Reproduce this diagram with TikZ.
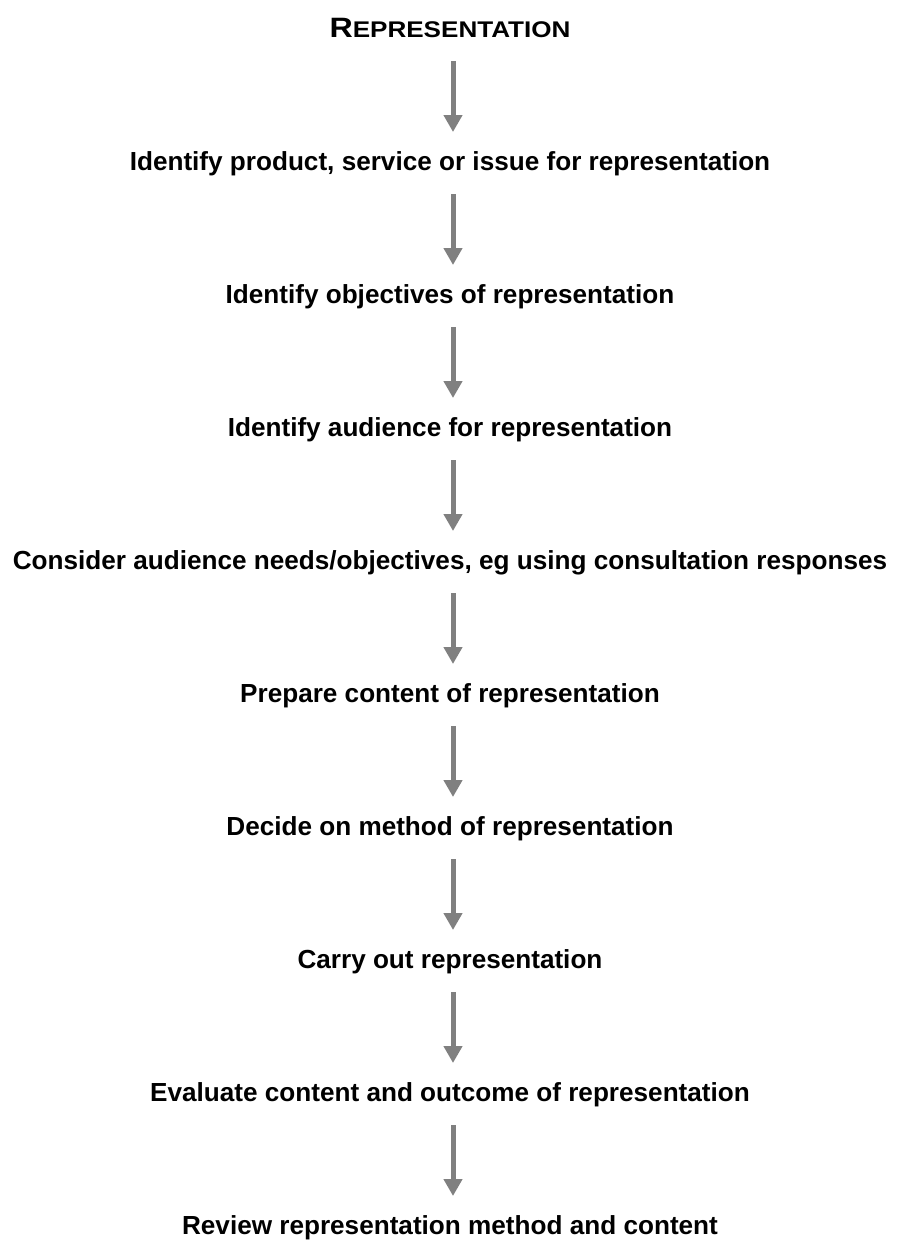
\documentclass[tikz,border=0pt]{standalone}
\usepackage{fontspec}
\setmainfont{Liberation Sans}
\newfontfamily\titlefont[FakeStretch=1.15]{Liberation Sans}
\usetikzlibrary{arrows.meta,calc}
\definecolor{arrowgray}{RGB}{128,128,128}
\begin{document}
\begin{tikzpicture}[x=0.75pt,y=-0.75pt,
  stepnode/.style={anchor=base, inner sep=0pt, font=\bfseries\fontsize{19.6}{22}\selectfont},
  flow/.style={draw=arrowgray, line width=3.75pt, -{Triangle[width=13.5pt,length=12.75pt]}}]
\useasboundingbox (0,0) rectangle (897,1246);
\node[stepnode] (t) at (450,37) {\titlefont\bfseries\fontsize{21}{23}\selectfont R\fontsize{17}{19}\selectfont EPRESENTATION};
\node[stepnode] (n1) at (450,170) {Identify product, service or issue for representation};
\node[stepnode] (n2) at (450,303) {Identify objectives of representation};
\node[stepnode] (n3) at (450,436) {Identify audience for representation};
\node[stepnode] (n4) at (450,569) {Consider audience needs/objectives, eg using consultation responses};
\node[stepnode] (n5) at (450,702) {Prepare content of representation};
\node[stepnode] (n6) at (450,835) {Decide on method of representation};
\node[stepnode] (n7) at (450,968) {Carry out representation};
\node[stepnode] (n8) at (450,1101) {Evaluate content and outcome of representation};
\node[stepnode] (n9) at (450,1234) {Review representation method and content};
\foreach \a/\b in {t/n1,n1/n2,n2/n3,n3/n4,n4/n5,n5/n6,n6/n7,n7/n8,n8/n9}
  \draw[flow] ($(\a.base)+(3,24)$) -- ($(\b.base)+(3,-38)$);
\end{tikzpicture}
\end{document}
